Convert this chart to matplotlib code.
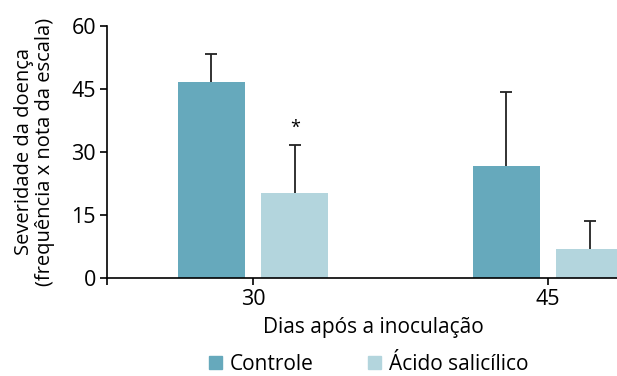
import numpy as np
import matplotlib.pyplot as plt
from matplotlib.patches import Patch

plt.rcParams["font.family"] = ["Open Sans", "DejaVu Sans"]

# data
dias = ["30", "45"]
series = ["Controle", "Ácido salicílico"]
controle = [46.7, 26.7]
acido = [20.2, 6.9]
controle_err = [6.6, 17.7]
acido_err = [11.5, 6.6]
colors = ["#66a9bc", "#b3d5dd"]

x = np.arange(len(dias))
width = 0.227
offset = 0.142

fig = plt.figure(figsize=(6.17, 3.76), dpi=100)
ax = fig.add_axes([0.1734, 0.2606, 0.8266, 0.6703])

ax.bar(x - offset, controle, width, color=colors[0])
ax.bar(x + offset, acido, width, color=colors[1])

# upper-only error bars with a cap at the top
for pos, val, err in [(x - offset, controle, controle_err), (x + offset, acido, acido_err)]:
    top = np.array(val) + np.array(err)
    ax.vlines(pos, val, top, color="#222222", linewidth=1.3)
    ax.plot(pos, top, linestyle="none", marker="_", markersize=8,
            markeredgewidth=1.3, color="#222222")

# significance mark
ax.text(x[0] + offset, acido[0] + acido_err[0] + 1.8, "*",
        ha="center", va="bottom", fontsize=13)

ax.set_xlim(-0.495, 1.234)
ax.set_ylim(0, 60)
ax.set_yticks([0, 15, 30, 45, 60])
ax.set_xticks([-0.495, 0, 1])
ax.set_xticklabels(["", dias[0], dias[1]])

for side in ["top", "right"]:
    ax.spines[side].set_visible(False)
for side in ["left", "bottom"]:
    ax.spines[side].set_linewidth(1.2)
ax.tick_params(axis="both", length=5, width=1.2, labelsize=15.5, pad=3)

ax.set_ylabel("Severidade da doença\n(frequência x nota da escala)",
              fontsize=14.5, labelpad=12, linespacing=1.05)

fig.text(373 / 617, 1 - 328 / 376, "Dias após a inoculação",
         ha="center", va="center", fontsize=15)

handles = [Patch(color=c, label=s) for c, s in zip(colors, series)]
fig.legend(handles=handles, loc="center", bbox_to_anchor=(369 / 617, 1 - 364 / 376),
           ncol=2, frameon=False, fontsize=15, handlelength=0.6,
           handleheight=0.6, handletextpad=0.4, columnspacing=2.6,
           borderpad=0)

fig.savefig("out.png", dpi=100)
